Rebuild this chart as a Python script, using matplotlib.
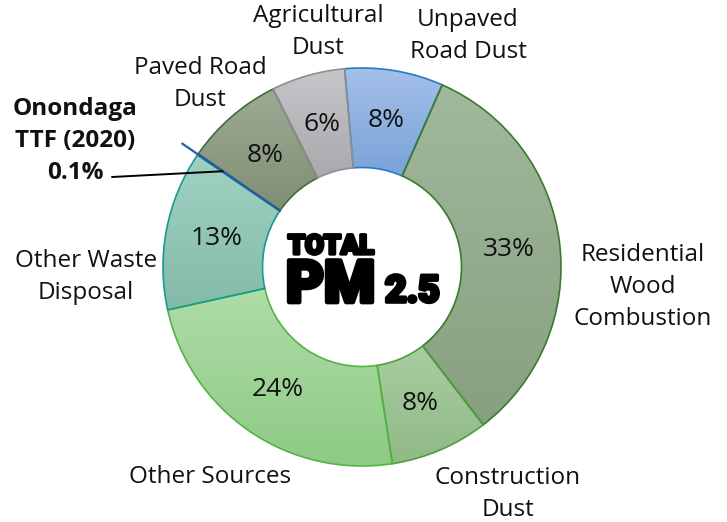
import numpy as np
import matplotlib
matplotlib.use("Agg")
import matplotlib.pyplot as plt
import matplotlib.patheffects as pe
from matplotlib.colors import LinearSegmentedColormap

plt.rcParams['font.family'] = ['Open Sans', 'DejaVu Sans']

# data, clockwise from the top
sources = ['Unpaved\nRoad Dust', 'Residential\nWood\nCombustion', 'Construction\nDust',
           'Other Sources', 'Other Waste\nDisposal', 'Onondaga\nTTF (2020)',
           'Paved Road\nDust', 'Agricultural\nDust']
shares = [8, 33, 8, 24, 13, 0.1, 8, 6]

# gradient fills (top, bottom) and outlines
tops = ['#a4c0e8', '#a2b89c', '#a9cca1', '#afdca8', '#a0d2c4', '#2f6fb8', '#9eab94', '#c6c6ca']
bottoms = ['#7aa3da', '#86a07f', '#90ba86', '#8ecb84', '#83baa8', '#2f6fb8', '#818e76', '#a9a9ad']
edges = ['#2a78c4', '#3a7a2c', '#4f9e40', '#55b345', '#169c8c', '#1f5fb0', '#3e6f34', '#8f8f93']

# label anchor points in pixel space (x, y from top)
label_pos = [(468, 36), (643, 287), (508, 494), (210, 477), (86, 277), None, (200, 84), (318, 32)]

W, H = 727, 522
cx, cy, R = 362, H - 267, 199

fig = plt.figure(figsize=(W / 100, H / 100), dpi=100)
ax = fig.add_axes([0, 0, 1, 1])


def pct_fmt(p):
    return '' if p < 1 else '%.0f%%' % p


wedges, texts, autotexts = ax.pie(shares, center=(cx, cy), radius=R, startangle=95,
                                  counterclock=False, autopct=pct_fmt, pctdistance=0.745,
                                  wedgeprops=dict(width=R * 0.5, linewidth=1.2),
                                  textprops=dict(fontsize=19, color='#111111'))

for i, w in enumerate(wedges):
    cmap = LinearSegmentedColormap.from_list('g%d' % i, [bottoms[i], tops[i]])
    ext = w.get_path().get_extents()
    grad = np.linspace(0, 1, 256).reshape(-1, 1)
    im = ax.imshow(grad, extent=[ext.x0, ext.x1, ext.y0, ext.y1], origin='lower',
                   cmap=cmap, aspect='auto', zorder=0.5)
    im.set_clip_path(w)
    w.set_facecolor('none')
    w.set_edgecolor(edges[i])
    w.set_zorder(1)
for t in autotexts:
    t.set_zorder(3)
ax.set_xlim(0, W)
ax.set_ylim(0, H)
ax.set_aspect('equal')
ax.axis('off')

# category labels
for i, lab in enumerate(sources):
    if label_pos[i] is None:
        continue
    x, y = label_pos[i]
    ax.text(x, H - y, lab, ha='center', va='center', fontsize=17.5, color='#111111',
            linespacing=1.47)

# Onondaga callout
w = wedges[5]
ang = np.deg2rad((w.theta1 + w.theta2) / 2)
ax.plot([cx + R * np.cos(ang), cx + 1.1 * R * np.cos(ang)],
        [cy + R * np.sin(ang), cy + 1.1 * R * np.sin(ang)],
        color='#1f5fb0', lw=1.6, zorder=2, solid_capstyle='butt')
ax.plot([cx + R * 0.5 * np.cos(ang), cx + R * np.cos(ang)],
        [cy + R * 0.5 * np.sin(ang), cy + R * np.sin(ang)],
        color='#1f5fb0', lw=1.2, zorder=2)
ax.annotate('', xy=(cx + 0.85 * R * np.cos(ang), cy + 0.85 * R * np.sin(ang)),
            xytext=(112, H - 177),
            arrowprops=dict(arrowstyle='-', color='black', lw=1.4, shrinkA=0, shrinkB=0),
            zorder=2)
ax.text(75, H - 141, 'Onondaga\nTTF (2020)\n0.1%', ha='center', va='center',
        multialignment='center', fontsize=17.5, fontweight='bold', color='#111111',
        linespacing=1.47)

# centre title, thickened with a stroke
heavy = dict(family='Roboto', fontweight='black', color='black', va='baseline', ha='left')
ax.text(288, H - 254, 'TOTAL', fontsize=19.5,
        path_effects=[pe.withStroke(linewidth=2.4, foreground='black')], **heavy)
ax.text(286, H - 302, 'PM', fontsize=42,
        path_effects=[pe.withStroke(linewidth=3.4, foreground='black')], **heavy)
ax.text(385, H - 302, '2.5', fontsize=27,
        path_effects=[pe.withStroke(linewidth=2.6, foreground='black')], **heavy)

fig.savefig('out.png', dpi=100)
